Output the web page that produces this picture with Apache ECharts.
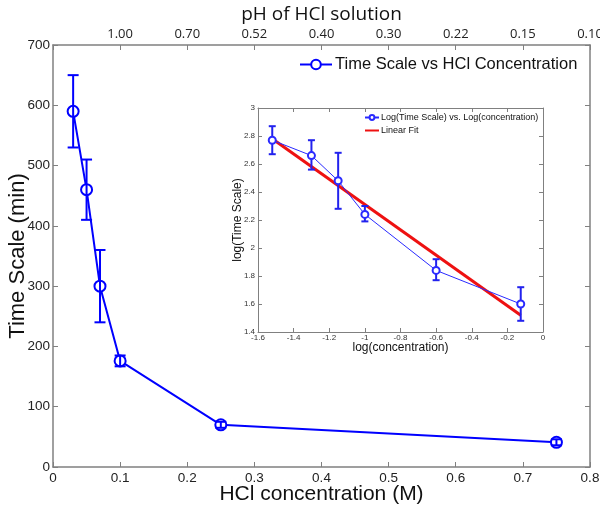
<!DOCTYPE html>
<html><head><meta charset="utf-8">
<script src="https://cdn.jsdelivr.net/npm/echarts@6/dist/echarts.min.js"></script>
<style>html,body{margin:0;padding:0;background:#fff}#c{width:600px;height:510px}</style>
</head><body><div id="c"></div>
<script>
// Main chart data
const concentration = [0.03, 0.05, 0.07, 0.10, 0.25, 0.75];
const timeScale = [590, 460, 300, 176, 70, 41];
const timeLow = [530, 410, 240, 167, 65, 36];
const timeHigh = [650, 510, 360, 185, 75, 46];
const phTickValues = [0, 0.1, 0.2, 0.3, 0.4, 0.5, 0.6, 0.7, 0.8];
const phTickLabels = ['', '1.00', '0.70', '0.52', '0.40', '0.30', '0.22', '0.15', '0.10'];
// Inset data
const logConc = [-1.52, -1.30, -1.15, -1.00, -0.60, -0.125];
const logTime = [2.77, 2.66, 2.48, 2.24, 1.84, 1.60];
const logLow = [2.67, 2.56, 2.28, 2.19, 1.77, 1.48];
const logHigh = [2.87, 2.77, 2.68, 2.30, 1.92, 1.72];
const fitX = [-1.52, -0.125];
const fitY = [2.78, 1.52];

const mainName = 'Time Scale vs HCl Concentration';
const logName = 'Log(Time Scale) vs. Log(concentration)';
const fitName = 'Linear Fit';
const AX = '#808080';
const FONT = '"Liberation Sans", Arial, sans-serif';

function errBar(capHalf, width, color) {
  return function (params, api) {
    const x = api.value(0);
    const lo = api.coord([x, api.value(1)]);
    const hi = api.coord([x, api.value(2)]);
    const st = { stroke: color, lineWidth: width, fill: null };
    return { type: 'group', children: [
      { type: 'line', shape: { x1: lo[0], y1: lo[1], x2: hi[0], y2: hi[1] }, style: st },
      { type: 'line', shape: { x1: lo[0] - capHalf, y1: lo[1], x2: lo[0] + capHalf, y2: lo[1] }, style: st },
      { type: 'line', shape: { x1: hi[0] - capHalf, y1: hi[1], x2: hi[0] + capHalf, y2: hi[1] }, style: st }
    ]};
  };
}

function axisBase(extra) {
  return Object.assign({
    nameMoveOverlap: false,
    axisLine: { show: true, onZero: false, lineStyle: { color: AX, width: 1.5 } },
    axisTick: { show: true, inside: true, length: 5, lineStyle: { color: AX, width: 1 } },
    splitLine: { show: false },
    axisLabel: { color: '#222', fontFamily: FONT, fontSize: 13.5 },
    nameTextStyle: { color: '#111', fontFamily: FONT }
  }, extra);
}
function insetAxis(extra) {
  return Object.assign({
    nameMoveOverlap: false,
    axisLine: { show: true, onZero: false, lineStyle: { color: AX, width: 1 } },
    axisTick: { show: true, inside: true, length: 4, lineStyle: { color: AX, width: 1 } },
    splitLine: { show: false },
    axisLabel: { color: '#333', fontFamily: FONT, fontSize: 8 },
    nameTextStyle: { color: '#111', fontFamily: FONT }
  }, extra);
}

const chart = echarts.init(document.getElementById('c'), null, { renderer: 'canvas' });
chart.setOption({
  animation: false,
  backgroundColor: '#fff',
  grid: [
    { left: 53, right: 10, top: 45, bottom: 43, containLabel: false, outerBoundsMode: 'none' },
    { left: 258, right: 57, top: 108, bottom: 178, containLabel: false, outerBoundsMode: 'none', show: true, backgroundColor: '#fff', borderWidth: 0 }
  ],
  legend: [
    { data: [mainName], left: 299, top: 56, itemWidth: 32, itemHeight: 12, itemGap: 4, padding: 0,
      textStyle: { fontFamily: FONT, fontSize: 16.5, color: '#111', padding: [0, 0, 0, -2] } },
    { data: [{ name: logName }, { name: fitName, itemStyle: { opacity: 0 } }], orient: 'vertical', left: 364, top: 113, itemWidth: 14, itemHeight: 6, itemGap: 4, padding: 0,
      textStyle: { fontFamily: FONT, fontSize: 9, color: '#111', padding: [0, 0, 0, -3] } }
  ],
  xAxis: [
    axisBase({ gridIndex: 0, type: 'value', position: 'bottom', min: 0, max: 0.8, interval: 0.1,
      name: 'HCl concentration (M)', nameLocation: 'middle', nameGap: 17,
      nameTextStyle: { fontFamily: FONT, fontSize: 21, color: '#111' },
      axisLabel: { color: '#222', fontFamily: FONT, fontSize: 13.5, margin: 4, formatter: v => String(Math.round(v * 10) / 10) } }),
    axisBase({ gridIndex: 0, type: 'value', position: 'top', min: 0, max: 0.8, interval: 0.1,
      name: 'pH of HCl solution', nameLocation: 'middle', nameGap: 21,
      nameTextStyle: { fontFamily: '"Open Sans", sans-serif', fontSize: 19, color: '#111' },
      axisLabel: { color: '#222', fontFamily: '"Open Sans", sans-serif', fontSize: 13, margin: 4,
        formatter: v => phTickLabels[phTickValues.findIndex(t => Math.abs(t - v) < 1e-6)] || '' } }),
    insetAxis({ gridIndex: 1, type: 'value', position: 'bottom', min: -1.6, max: 0, interval: 0.2,
      name: 'log(concentration)', nameLocation: 'middle', nameGap: 10,
      nameTextStyle: { fontFamily: FONT, fontSize: 12, color: '#111' },
      axisLabel: { color: '#333', fontFamily: FONT, fontSize: 8, margin: 2, formatter: v => String(Math.round(v * 10) / 10) } }),
    insetAxis({ gridIndex: 1, type: 'value', position: 'top', min: -1.6, max: 0, interval: 0.2, axisLabel: { show: false } })
  ],
  yAxis: [
    axisBase({ gridIndex: 0, type: 'value', position: 'left', min: 0, max: 700, interval: 100,
      name: 'Time Scale (min)', nameLocation: 'middle', nameGap: 24,
      nameTextStyle: { fontFamily: FONT, fontSize: 22, color: '#111' },
      axisLabel: { color: '#222', fontFamily: FONT, fontSize: 13.5, margin: 3 } }),
    axisBase({ gridIndex: 0, type: 'value', position: 'right', min: 0, max: 700, interval: 100, axisLabel: { show: false } }),
    insetAxis({ gridIndex: 1, type: 'value', position: 'left', min: 1.4, max: 3, interval: 0.2,
      name: 'log(Time Scale)', nameLocation: 'middle', nameGap: 14,
      nameTextStyle: { fontFamily: FONT, fontSize: 12, color: '#111' },
      axisLabel: { color: '#333', fontFamily: FONT, fontSize: 8, margin: 3, formatter: v => String(Math.round(v * 10) / 10) } }),
    insetAxis({ gridIndex: 1, type: 'value', position: 'right', min: 1.4, max: 3, interval: 0.2, axisLabel: { show: false } })
  ],
  series: [
    { name: mainName, type: 'line', xAxisIndex: 0, yAxisIndex: 0,
      data: concentration.map((c, i) => [c, timeScale[i]]),
      symbol: 'emptyCircle', symbolSize: 11,
      lineStyle: { color: '#0000ff', width: 2 },
      itemStyle: { color: '#0000ff', borderColor: '#0000ff', borderWidth: 2 }, z: 3 },
    { name: mainName + ' err', type: 'custom', xAxisIndex: 0, yAxisIndex: 0,
      data: concentration.map((c, i) => [c, timeLow[i], timeHigh[i]]),
      renderItem: errBar(5.5, 2, '#0000ff'), z: 4 },
    { name: logName, type: 'line', xAxisIndex: 2, yAxisIndex: 2,
      data: logConc.map((c, i) => [c, logTime[i]]),
      symbol: 'emptyCircle', symbolSize: 7,
      lineStyle: { color: '#2a2aff', width: 1 },
      itemStyle: { color: '#2a2aff', borderColor: '#2a2aff', borderWidth: 1.3 }, z: 5 },
    { name: logName + ' err', type: 'custom', xAxisIndex: 2, yAxisIndex: 2,
      data: logConc.map((c, i) => [c, logLow[i], logHigh[i]]),
      renderItem: errBar(3.5, 2, '#2222ee'), z: 5 },
    { name: fitName, type: 'line', xAxisIndex: 2, yAxisIndex: 2,
      data: fitX.map((x, i) => [x, fitY[i]]),
      symbol: 'none', lineStyle: { color: '#ee1111', width: 3 }, itemStyle: { color: '#ee1111' }, z: 4 }
  ]
});
</script></body></html>
